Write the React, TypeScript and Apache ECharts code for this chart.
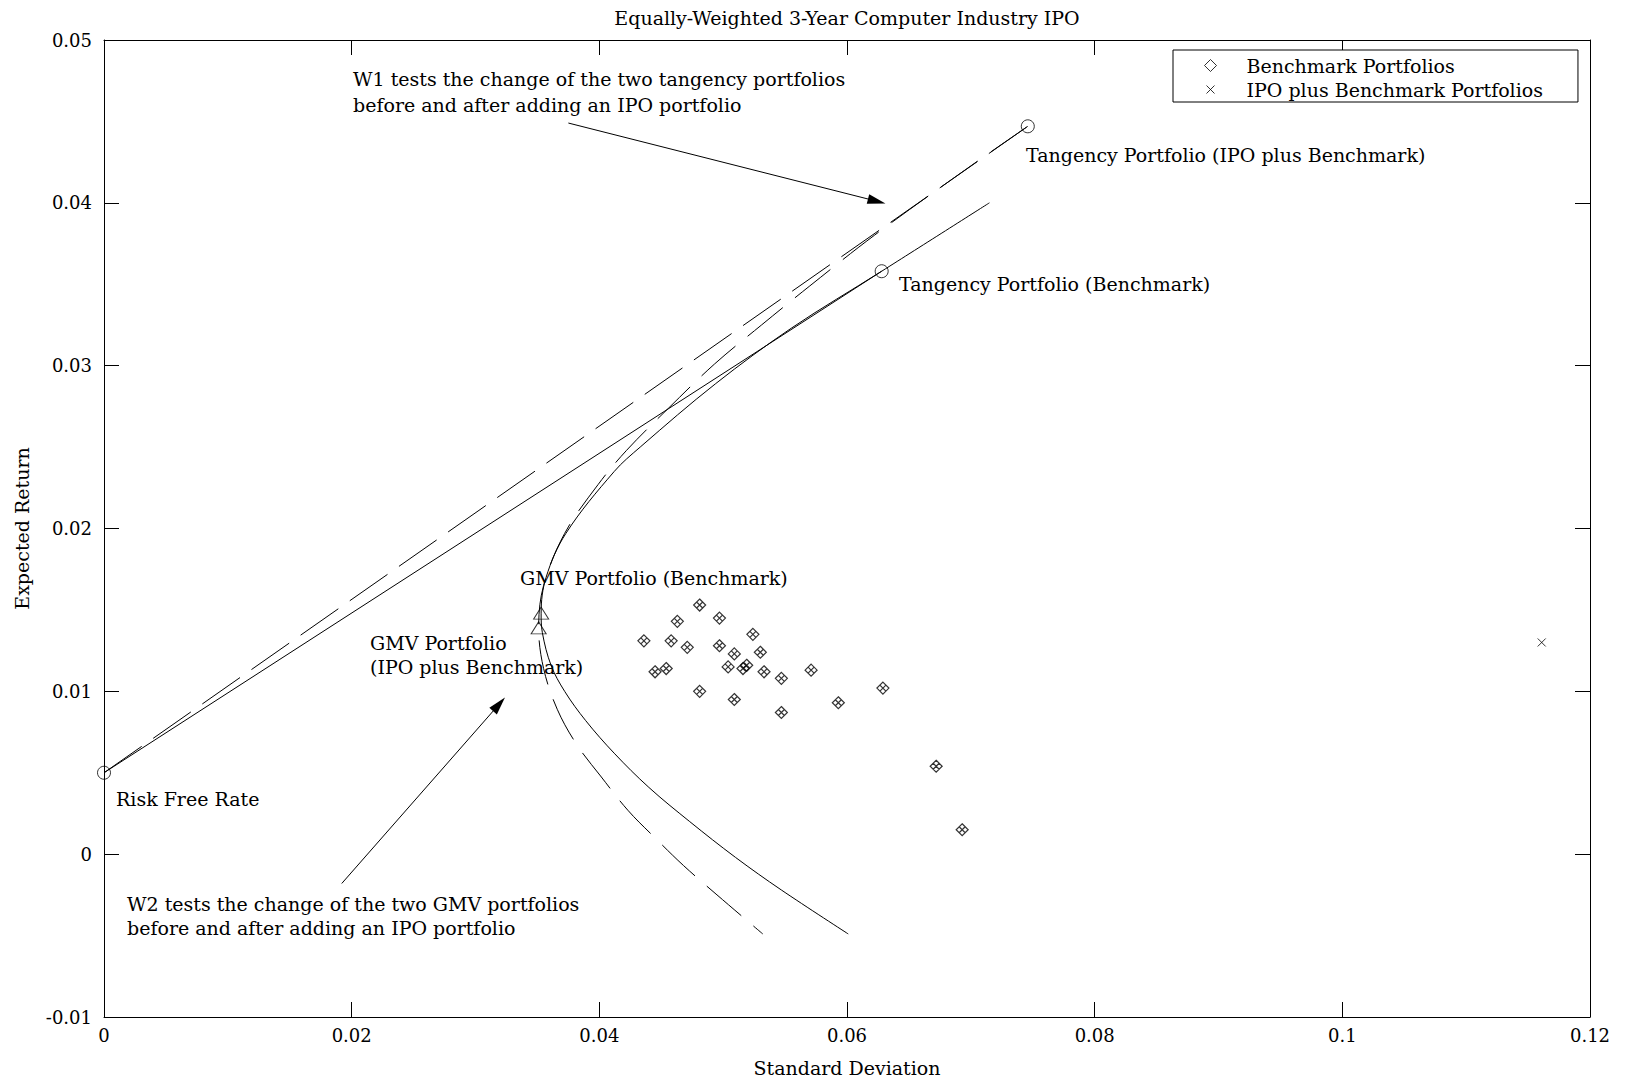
import React, { useEffect, useRef } from 'react';
import * as echarts from 'echarts';

// ---------- text ----------
const TITLE = 'Equally-Weighted 3-Year Computer Industry IPO';
const X_NAME = 'Standard Deviation';
const Y_NAME = 'Expected Return';
const LEGEND_BENCH = 'Benchmark Portfolios';
const LEGEND_IPO = 'IPO plus Benchmark Portfolios';

// ---------- axes ----------
const X_MIN = 0;
const X_MAX = 0.12;
const X_STEP = 0.02;
const Y_MIN = -0.01;
const Y_MAX = 0.05;
const Y_STEP = 0.01;

// ---------- data (standard deviation, expected return) ----------
const benchmarkPortfolios: number[][] = [
  [0.0436, 0.0131], [0.0445, 0.0112], [0.0454, 0.0114], [0.0458, 0.0131], [0.0463, 0.0143],
  [0.0471, 0.0127], [0.0481, 0.0153], [0.0481, 0.0100], [0.0497, 0.0145], [0.0497, 0.0128],
  [0.0504, 0.0115], [0.0509, 0.0123], [0.0509, 0.0095], [0.0516, 0.0114], [0.0519, 0.0116],
  [0.0524, 0.0135], [0.0530, 0.0124], [0.0533, 0.0112], [0.0547, 0.0108], [0.0547, 0.0087],
  [0.0571, 0.0113], [0.0593, 0.0093], [0.0629, 0.0102], [0.0672, 0.0054], [0.0693, 0.0015],
];
const ipoPortfolios: number[][] = [[0.1161, 0.0130]];

const benchmarkFrontier: number[][] = [
  [0.0715, 0.0400], [0.0628, 0.0358], [0.0555, 0.0323], [0.0494, 0.0289], [0.0433, 0.0250],
  [0.0412, 0.0235], [0.0373, 0.0197], [0.0357, 0.0170], [0.0353, 0.0148], [0.0354, 0.0136],
  [0.0361, 0.0116], [0.0372, 0.0100], [0.0389, 0.0082], [0.0412, 0.0062], [0.0440, 0.0041],
  [0.0473, 0.0020], [0.0510, -0.0002], [0.0547, -0.0022], [0.0601, -0.0049],
];
const ipoFrontier: number[][] = [
  [0.0746, 0.0447], [0.0695, 0.0420], [0.0622, 0.0380], [0.0570, 0.0349], [0.0531, 0.0325],
  [0.0493, 0.0301], [0.0456, 0.0274], [0.0422, 0.0248], [0.0399, 0.0227], [0.0372, 0.0197],
  [0.0355, 0.0165], [0.0351, 0.0139], [0.0355, 0.0114], [0.0366, 0.0089], [0.0382, 0.0067],
  [0.0401, 0.0048], [0.0423, 0.0027], [0.0445, 0.0010], [0.0468, -0.0007], [0.0495, -0.0025],
  [0.0532, -0.0049],
];

const riskFree = [0, 0.005];
const tangencyBenchmark = [0.0628, 0.0358];
const tangencyIpo = [0.0746, 0.0447];
const gmvBenchmark = [0.0353, 0.0148];
const gmvIpo = [0.0351, 0.0139];

const w1Arrow = [[0.0375, 0.0449], [0.0624, 0.0401]];
const w2Arrow = [[0.0192, -0.0018], [0.0319, 0.0092]];

// ---------- style ----------
const FONT = 'DejaVu Serif';
const FS = 19;
const FS_TICK = 18;
const BLACK = '#000';
const DIAMOND_X = 'path://M0,-6L6,0L0,6L-6,0Z M3,-3L-3,3 M-3,-3L3,3';
const CROSS = 'path://M0,0L10,10M10,0L0,10';
// legend icons: bounding box exactly itemWidth x itemHeight (62 x 12)
const LEGEND_DIAMOND = 'path://M0,0L0,0M62,12L62,12M31,0L37,6L31,12L25,6Z';
const LEGEND_CROSS = 'path://M0,0L0,0M62,12L62,12M27,2L35,10M35,2L27,10';

const fmt = (v: number) => String(parseFloat(v.toFixed(4)));

const axisCommon = {
  type: 'value',
  splitLine: { show: false },
  axisLine: { show: true, onZero: false, lineStyle: { color: BLACK, width: 1 } },
  axisTick: { show: true, inside: true, length: 15, lineStyle: { color: BLACK, width: 1 } },
};

const labelText = (x: number, y: number, text: string, lineHeight = 24) => ({
  type: 'text',
  x,
  y,
  silent: true,
  style: {
    text,
    fontFamily: FONT,
    fontSize: FS,
    fill: BLACK,
    verticalAlign: 'middle',
    align: 'left',
    lineHeight,
  },
});

export default function App() {
  const ref = useRef<HTMLDivElement>(null);
  useEffect(() => {
    if (!ref.current) return;
    const chart = echarts.init(ref.current, null, { renderer: 'svg' });
    const outline = { color: 'transparent', borderColor: BLACK, borderWidth: 1 };
    const option = {
      animation: false,
      backgroundColor: '#fff',
      title: {
        text: TITLE,
        left: 847,
        top: 8,
        textAlign: 'center',
        padding: 0,
        textStyle: { fontFamily: FONT, fontSize: FS, fontWeight: 'normal', color: BLACK },
      },
      legend: {
        orient: 'vertical',
        left: 1173,
        top: 50,
        padding: [6, 35, 3, 6],
        borderColor: BLACK,
        borderWidth: 1,
        borderRadius: 0,
        backgroundColor: '#fff',
        itemWidth: 62,
        itemHeight: 12,
        itemGap: 5,
        symbolKeepAspect: true,
        selectedMode: false,
        textStyle: { fontFamily: FONT, fontSize: FS, color: BLACK },
        data: [
          { name: LEGEND_BENCH, icon: LEGEND_DIAMOND, itemStyle: outline },
          { name: LEGEND_IPO, icon: LEGEND_CROSS, itemStyle: outline },
        ],
      },
      grid: { left: 104, top: 40, width: 1486, height: 985 },
      xAxis: [
        {
          ...axisCommon,
          position: 'bottom',
          min: X_MIN,
          max: X_MAX,
          interval: X_STEP,
          axisLabel: { formatter: fmt, fontFamily: FONT, fontSize: FS_TICK, color: BLACK, margin: 9 },
          name: X_NAME,
          nameLocation: 'middle',
          nameGap: 41,
          nameTextStyle: { fontFamily: FONT, fontSize: FS, color: BLACK },
        },
        {
          ...axisCommon,
          position: 'top',
          min: X_MIN,
          max: X_MAX,
          interval: X_STEP,
          axisLabel: { show: false },
        },
      ],
      yAxis: [
        {
          ...axisCommon,
          position: 'left',
          min: Y_MIN,
          max: Y_MAX,
          interval: Y_STEP,
          axisLabel: { formatter: fmt, fontFamily: FONT, fontSize: FS_TICK, color: BLACK, margin: 12 },
          name: Y_NAME,
          nameLocation: 'middle',
          nameGap: 73,
          nameTextStyle: { fontFamily: FONT, fontSize: FS, color: BLACK },
        },
        {
          ...axisCommon,
          position: 'right',
          min: Y_MIN,
          max: Y_MAX,
          interval: Y_STEP,
          axisLabel: { show: false },
        },
      ],
      series: [
        {
          name: LEGEND_BENCH,
          type: 'scatter',
          data: benchmarkPortfolios,
          symbol: DIAMOND_X,
          symbolSize: 12,
          itemStyle: { color: 'transparent', borderColor: BLACK, borderWidth: 1.2 },
          silent: true,
        },
        {
          name: LEGEND_IPO,
          type: 'scatter',
          data: ipoPortfolios,
          symbol: CROSS,
          symbolSize: 8,
          itemStyle: outline,
          silent: true,
        },
        {
          name: 'Benchmark frontier',
          type: 'line',
          data: benchmarkFrontier,
          showSymbol: false,
          symbol: 'none',
          smooth: 0.35,
          lineStyle: { color: BLACK, width: 1, type: 'solid' },
          silent: true,
        },
        {
          name: 'IPO frontier',
          type: 'line',
          data: ipoFrontier,
          showSymbol: false,
          symbol: 'none',
          smooth: 0.35,
          lineStyle: { color: BLACK, width: 1, type: [45, 16] },
          silent: true,
        },
        {
          name: 'Benchmark CML',
          type: 'line',
          data: [riskFree, tangencyBenchmark],
          showSymbol: false,
          symbol: 'none',
          lineStyle: { color: BLACK, width: 1, type: 'solid' },
          silent: true,
        },
        {
          name: 'IPO CML',
          type: 'line',
          data: [riskFree, tangencyIpo],
          showSymbol: false,
          symbol: 'none',
          lineStyle: { color: BLACK, width: 1, type: [46, 14] },
          silent: true,
        },
        {
          name: 'Key points',
          type: 'scatter',
          data: [riskFree, tangencyBenchmark, tangencyIpo],
          symbol: 'circle',
          symbolSize: 13,
          itemStyle: outline,
          silent: true,
          markLine: {
            silent: true,
            animation: false,
            symbol: ['none', 'triangle'],
            symbolSize: [10, 18],
            label: { show: false },
            lineStyle: { color: BLACK, width: 1, type: 'solid' },
            emphasis: { disabled: true },
            data: [
              [{ coord: w1Arrow[0] }, { coord: w1Arrow[1] }],
              [{ coord: w2Arrow[0] }, { coord: w2Arrow[1] }],
            ],
          },
        },
        {
          name: 'GMV points',
          type: 'scatter',
          data: [gmvBenchmark, gmvIpo],
          symbol: 'triangle',
          symbolSize: [15, 12],
          itemStyle: outline,
          silent: true,
        },
      ],
      graphic: [
        labelText(353, 92, 'W1 tests the change of the two tangency portfolios\nbefore and after adding an IPO portfolio', 26),
        labelText(1026, 155, 'Tangency Portfolio (IPO plus Benchmark)'),
        labelText(899, 284, 'Tangency Portfolio (Benchmark)'),
        labelText(520, 578, 'GMV Portfolio (Benchmark)'),
        labelText(370, 655, 'GMV Portfolio\n(IPO plus Benchmark)'),
        labelText(116, 799, 'Risk Free Rate'),
        labelText(127, 916, 'W2 tests the change of the two GMV portfolios\nbefore and after adding an IPO portfolio'),
      ],
    };
    chart.setOption(option as any);
    return () => chart.dispose();
  }, []);
  return (
    <div
      ref={ref}
      style={{ position: 'absolute', left: 0, top: 0, width: 1630, height: 1082, background: '#fff' }}
    />
  );
}
